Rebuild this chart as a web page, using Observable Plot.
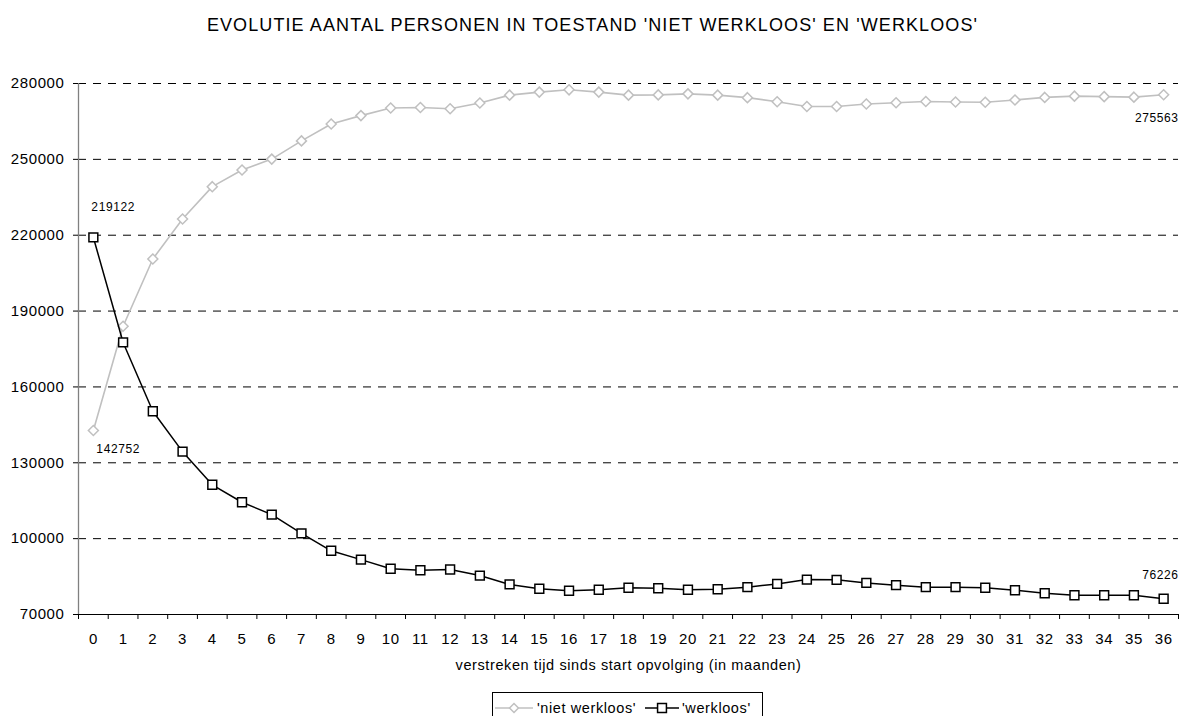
<!DOCTYPE html>
<html>
<head>
<meta charset="utf-8">
<script src="https://cdn.jsdelivr.net/npm/d3@7"></script>
<script src="https://cdn.jsdelivr.net/npm/@observablehq/plot@0.6"></script>
<style>
  body { margin: 0; background: #fff; font-family: Arial, "Liberation Sans", sans-serif; }
  #wrap { position: relative; width: 1185px; height: 716px; overflow: hidden; background: #fff; }
  #title { position: absolute; left: 0; top: 16px; width: 1185px; text-align: center;
           font-size: 18px; line-height: 18px; letter-spacing: 1.1px; color: #000; white-space: nowrap; }
  #chart { position: absolute; left: 0; top: 60px; }
  #legend { position: absolute; left: 492px; top: 692px; }
  svg text { letter-spacing: 0.6px; }
</style>
</head>
<body>
<div id="wrap">
  <div id="title">EVOLUTIE AANTAL PERSONEN IN TOESTAND 'NIET WERKLOOS' EN 'WERKLOOS'</div>
  <div id="chart"></div>
  <div id="legend"></div>
</div>
<script>
// ---- data ----
const months = [0,1,2,3,4,5,6,7,8,9,10,11,12,13,14,15,16,17,18,19,20,21,22,23,24,25,26,27,28,29,30,31,32,33,34,35,36];
const nietWerkloos = [142752,184000,210600,226400,239200,245800,250100,257300,264000,267300,270300,270500,270000,272300,275400,276600,277500,276600,275400,275500,275900,275400,274400,272800,270900,270900,271900,272400,272900,272700,272600,273500,274500,275000,274800,274600,275563];
const werkloos = [219122,177600,150400,134400,121300,114400,109500,102100,95200,91700,88100,87500,87800,85400,81900,80200,79400,79800,80600,80400,79800,80000,80800,82100,83800,83700,82500,81600,80800,80800,80600,79600,78400,77600,77600,77600,76226];
const yTicks = [70000,100000,130000,160000,190000,220000,250000,280000];
const seriesNames = ["'niet werkloos'", "'werkloos'"];
const xTitle = "verstreken tijd sinds start opvolging (in maanden)";

// ---- derived tables ----
const nietData = months.map((m, i) => ({month: m, value: nietWerkloos[i]}));
const werkData = months.map((m, i) => ({month: m, value: werkloos[i]}));
const xDomain = [months[0] - 0.5, months[months.length - 1] + 0.5];
const yDomain = [yTicks[0], yTicks[yTicks.length - 1]];
const boundaries = months.map(m => m - 0.5).concat([months[months.length - 1] + 0.5]);

const grey = "#c0c0c0";
const font = "Arial, 'Liberation Sans', sans-serif";

const chart = Plot.plot({
  width: 1185,
  height: 630,
  marginLeft: 78,
  marginRight: 7,
  marginTop: 23,
  marginBottom: 76,
  style: {fontFamily: font, fontSize: "14px", background: "white", color: "black", overflow: "visible"},
  x: {type: "linear", domain: xDomain},
  y: {type: "linear", domain: yDomain},
  marks: [
    Plot.ruleY(yTicks.slice(1), {stroke: "black", strokeWidth: 1, strokeDasharray: "8,7"}),
    Plot.ruleX([xDomain[0]], {stroke: "#808080", strokeWidth: 1.3}),
    Plot.ruleY([yDomain[0]], {stroke: "black", strokeWidth: 1}),
    Plot.axisY({ticks: yTicks, tickSize: 5, tickPadding: 9, tickFormat: d => String(d), fontSize: 15, label: null, stroke: "black"}),
    Plot.axisX({ticks: boundaries, tickSize: 5, tickFormat: () => "", label: null, stroke: "black"}),
    Plot.axisX({ticks: months, tickSize: 0, tickPadding: 19, tickFormat: d => String(d), fontSize: 15, label: null}),
    Plot.text([xTitle], {text: d => d, frameAnchor: "bottom", dy: 51, lineAnchor: "middle", fontSize: 14.5}),

    Plot.line(nietData, {x: "month", y: "value", stroke: grey, strokeWidth: 1.6}),
    Plot.dot(nietData, {x: "month", y: "value", symbol: "diamond2", r: 4.5, stroke: grey, fill: "white", strokeWidth: 1.5}),
    Plot.line(werkData, {x: "month", y: "value", stroke: "black", strokeWidth: 1.5}),
    Plot.dot(werkData, {x: "month", y: "value", symbol: "square", r: 5, stroke: "black", fill: "white", strokeWidth: 1.5}),

    Plot.text([werkData[0]], {x: "month", y: "value", text: d => String(d.value), textAnchor: "start", dx: -2, dy: -30, fontSize: 12}),
    Plot.text([nietData[0]], {x: "month", y: "value", text: d => String(d.value), textAnchor: "start", dx: 3, dy: 19, fontSize: 12}),
    Plot.text([nietData[nietData.length - 1]], {x: "month", y: "value", text: d => String(d.value), textAnchor: "end", dx: 15, dy: 23, fontSize: 12}),
    Plot.text([werkData[werkData.length - 1]], {x: "month", y: "value", text: d => String(d.value), textAnchor: "end", dx: 15, dy: -24, fontSize: 12})
  ]
});
document.getElementById("chart").appendChild(chart);

// ---- legend (below the SVG) ----
const lg = d3.select("#legend").append("svg")
  .attr("width", 271).attr("height", 30)
  .style("font-family", font).style("display", "block");
lg.append("rect").attr("x", 0.5).attr("y", 0.5).attr("width", 270).attr("height", 40)
  .attr("fill", "white").attr("stroke", "black").attr("stroke-width", 1);
// niet werkloos swatch
lg.append("line").attr("x1", 3).attr("x2", 41).attr("y1", 16).attr("y2", 16).attr("stroke", grey).attr("stroke-width", 1.6);
lg.append("path").attr("transform", "translate(22,16)")
  .attr("d", d3.symbol(d3.symbolDiamond2, Math.PI * 16)())
  .attr("fill", "white").attr("stroke", grey).attr("stroke-width", 1.5);
lg.append("text").attr("x", 45).attr("y", 21).attr("font-size", 14.5).text(seriesNames[0]);
// werkloos swatch
lg.append("line").attr("x1", 153).attr("x2", 187).attr("y1", 16).attr("y2", 16).attr("stroke", "black").attr("stroke-width", 1.5);
lg.append("path").attr("transform", "translate(170,16)")
  .attr("d", d3.symbol(d3.symbolSquare, Math.PI * 25)())
  .attr("fill", "white").attr("stroke", "black").attr("stroke-width", 1.5);
lg.append("text").attr("x", 190).attr("y", 21).attr("font-size", 14.5).text(seriesNames[1]);
</script>
</body>
</html>
